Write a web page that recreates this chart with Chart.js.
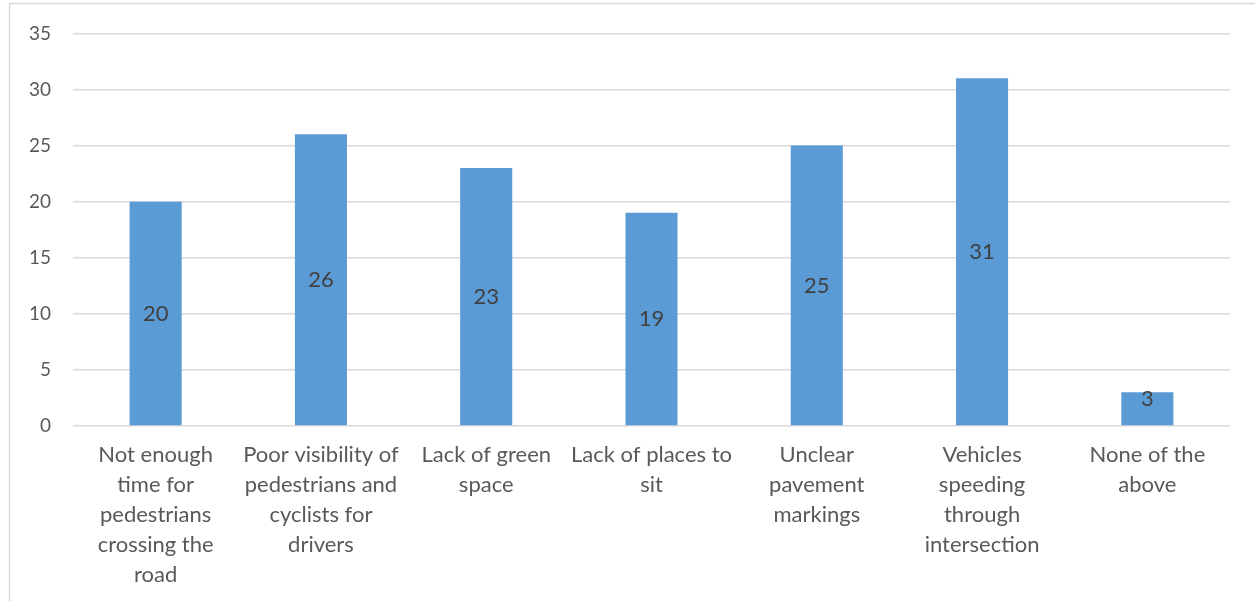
<!DOCTYPE html>
<html>
<head>
<meta charset="utf-8">
<script src="https://cdn.jsdelivr.net/npm/chart.js@4/dist/chart.umd.min.js"></script>
<style>
  html, body { margin: 0; padding: 0; background: #fff; }
  #wrap { position: relative; width: 1255px; height: 601px; }
</style>
</head>
<body>
<div id="wrap"><canvas id="chart" width="1255" height="601"></canvas></div>
<script>
// categories (multi-line like the original wrapping)
const categories = [
    ["Not enough", "time for", "pedestrians", "crossing the", "road"],
    ["Poor visibility of", "pedestrians and", "cyclists for", "drivers"],
    ["Lack of green", "space"],
    ["Lack of places to", "sit"],
    ["Unclear", "pavement", "markings"],
    ["Vehicles", "speeding", "through", "intersection"],
    ["None of the", "above"]
];
const counts = [20, 26, 23, 19, 25, 31, 3];
const yTicks = [0, 5, 10, 15, 20, 25, 30, 35];

const FONT = "Lato, 'Open Sans', sans-serif";

// 外框
const frame = {
    id: 'frame',
    beforeDraw(chart) {
        const c = chart.ctx;
        c.save();
        c.fillStyle = '#fff';
        c.fillRect(0, 0, chart.width, chart.height);
        c.strokeStyle = '#d9d9d9';
        c.lineWidth = 1.5;
        c.strokeRect(9.5, 3.5, 1400, 800);
        c.restore();
    }
};

// 數值標籤放在長條中間（太矮的長條貼齊頂端）
const barLabels = {
    id: 'barLabels',
    afterDatasetsDraw(chart) {
        const c = chart.ctx;
        const meta = chart.getDatasetMeta(0);
        c.save();
        c.font = '22px ' + FONT;
        c.fillStyle = '#404040';
        c.textAlign = 'center';
        c.textBaseline = 'middle';
        meta.data.forEach((bar, i) => {
            let y = (bar.y + bar.base) / 2;
            if (y - bar.y < 20) y = bar.y + 7;
            c.fillText(String(counts[i]), bar.x, y);
        });
        c.restore();
    }
};

new Chart(document.getElementById('chart'), {
    type: 'bar',
    data: {
        labels: categories,
        datasets: [{
            data: counts,
            backgroundColor: '#5b9bd5',
            borderWidth: 0,
            categoryPercentage: 1,
            barPercentage: 0.315
        }]
    },
    options: {
        responsive: false,
        animation: false,
        layout: { padding: { top: 31, right: 25, left: 0, bottom: 0 } },
        plugins: {
            legend: { display: false },
            tooltip: { enabled: false }
        },
        scales: {
            x: {
                grid: { display: false, drawTicks: false },
                border: { display: false },
                ticks: {
                    color: '#595959',
                    font: { family: FONT, size: 22, lineHeight: 1.36 },
                    padding: 14,
                    maxRotation: 0,
                    autoSkip: false
                },
                afterFit(scale) { scale.height = 175; }
            },
            y: {
                min: 0,
                max: 35,
                afterBuildTicks(scale) { scale.ticks = yTicks.map(v => ({ value: v })); },
                grid: { color: '#d9d9d9', lineWidth: 1.5, drawTicks: false },
                border: { display: false },
                ticks: {
                    color: '#595959',
                    font: { family: FONT, size: 19 },
                    padding: 22
                },
                afterFit(scale) { scale.width = 73; }
            }
        }
    },
    plugins: [frame, barLabels]
});
</script>
</body>
</html>
